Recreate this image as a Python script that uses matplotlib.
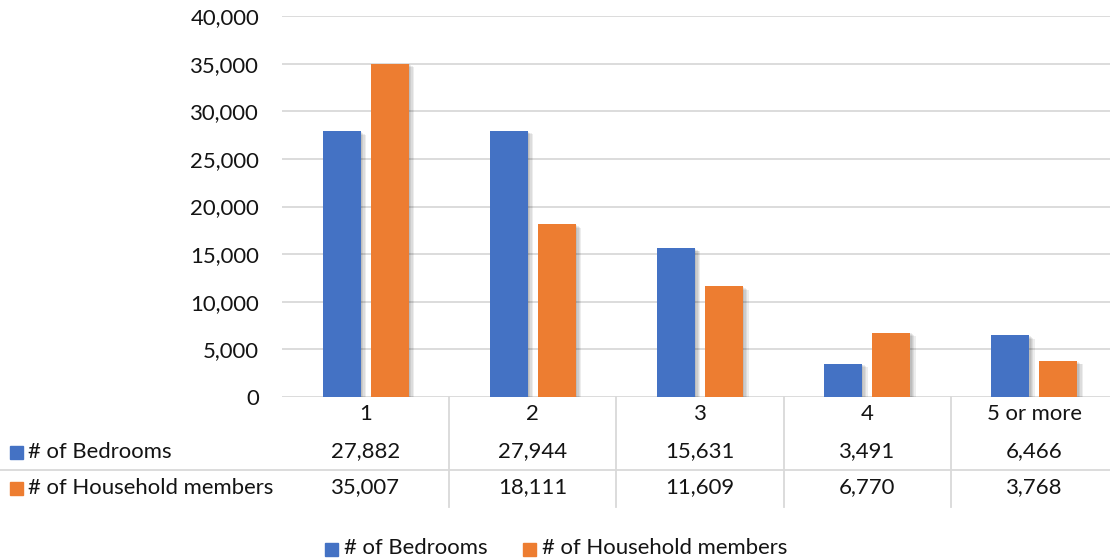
import matplotlib
matplotlib.use("Agg")
import matplotlib.pyplot as plt
import matplotlib.patheffects as pe
from matplotlib.transforms import blended_transform_factory
from matplotlib.patches import Rectangle

plt.rcParams['font.family'] = ['Lato', 'DejaVu Sans']

categories = ['1', '2', '3', '4', '5 or more']
bedrooms = [27882, 27944, 15631, 3491, 6466]
household = [35007, 18111, 11609, 6770, 3768]
series_names = ['# of Bedrooms', '# of Household members']
yticks = [0, 5000, 10000, 15000, 20000, 25000, 30000, 35000, 40000]

BLUE = '#4472C4'
ORANGE = '#ED7D31'
GRID = '#d9d9d9'
TEXT = '#141414'
FS = 15.9

W, H = 1110, 559
fig = plt.figure(figsize=(W / 100, H / 100), dpi=100)


def fy(py):
    # pixel row (from top) -> figure fraction
    return 1 - py / H


ax = fig.add_axes([282 / W, fy(397), (1118 - 282) / W, (397 - 16) / H])
ax.set_xlim(-0.5, len(categories) - 0.5)
ax.set_ylim(0, 40000)

shadow = [pe.SimplePatchShadow(offset=(o, -o * 0.6), shadow_rgbFace='#000000', alpha=0.07)
          for o in (1, 2, 3, 4)] + [pe.Normal()]

xs = range(len(categories))
bw = 0.227
off = 0.144
ax.bar([x - off for x in xs], bedrooms, width=bw, color=BLUE, zorder=3, path_effects=shadow)
ax.bar([x + off for x in xs], household, width=bw, color=ORANGE, zorder=3, path_effects=shadow)

ax.set_yticks(yticks)
ax.set_yticklabels([f'{v:,}' for v in yticks], fontsize=FS, color=TEXT)
ax.tick_params(axis='y', length=0, pad=16.5)
ax.tick_params(axis='x', length=0, labelbottom=False)
ax.grid(axis='y', color=GRID, linewidth=1.3, zorder=0)
for s in ['top', 'right', 'left', 'bottom']:
    ax.spines[s].set_visible(False)

# data table under the plot
tr = blended_transform_factory(ax.transData, fig.transFigure)
row_y = [414, 451, 487]
for i, cat in enumerate(categories):
    fig.text(i, fy(row_y[0]), cat, transform=tr, ha='center', va='center', fontsize=FS, color=TEXT)
    fig.text(i, fy(row_y[1]), f'{bedrooms[i]:,}', transform=tr, ha='center', va='center',
             fontsize=FS, color=TEXT)
    fig.text(i, fy(row_y[2]), f'{household[i]:,}', transform=tr, ha='center', va='center',
             fontsize=FS, color=TEXT)

for b in [0.5, 1.5, 2.5, 3.5]:
    fig.add_artist(plt.Line2D([b, b], [fy(397), fy(507)], transform=tr, color=GRID, linewidth=1.3))
fig.add_artist(plt.Line2D([0, 1], [fy(470), fy(470)], transform=fig.transFigure,
                          color=GRID, linewidth=1.3))

for name, color, py in [(series_names[0], BLUE, 452), (series_names[1], ORANGE, 488)]:
    fig.add_artist(Rectangle((10 / W, fy(py + 7)), 13 / W, 13 / H, transform=fig.transFigure,
                             color=color))
    fig.text(28 / W, fy(py), name, ha='left', va='center', fontsize=FS, color=TEXT)

# legend at the bottom
for name, color, sx in [(series_names[0], BLUE, 325), (series_names[1], ORANGE, 523)]:
    fig.add_artist(Rectangle((sx / W, fy(549 + 7)), 13 / W, 13 / H, transform=fig.transFigure,
                             color=color))
    fig.text((sx + 19) / W, fy(548), name, ha='left', va='center', fontsize=FS, color=TEXT)

fig.savefig('out.png', dpi=100)
